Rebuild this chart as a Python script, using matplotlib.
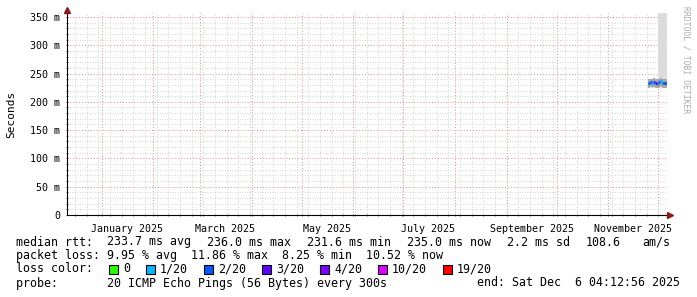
import datetime as dt
import matplotlib
matplotlib.use("Agg")
import matplotlib.pyplot as plt
import matplotlib.dates as mdates
from matplotlib.patches import Rectangle

# daily consolidated values at the end of the period (seconds)
days = [dt.datetime(2025, 11, 25) + dt.timedelta(days=i) for i in range(12)]
median = [0.2331, 0.2345, 0.2320, 0.2358, 0.2330, 0.2316, 0.2342, 0.2360, 0.2335, 0.2328, 0.2340, 0.2350]
loss = [2, 2, 1, 2, 3, 2, 2, 1, 2, 2, 2, 2]
smoke_lo = [0.2250, 0.2255, 0.2248, 0.2260, 0.2252, 0.2246, 0.2250, 0.2255, 0.2248, 0.2252, 0.2250, 0.2255]
smoke_mid = [0.2400, 0.2410, 0.2395, 0.2415, 0.2405, 0.2400, 0.2410, 0.2415, 0.2405, 0.2400, 0.2410, 0.2410]
smoke_hi = [0.2400, 0.2410, 0.2395, 0.2415, 0.2405, 0.2400, 0.3600, 0.3600, 0.3600, 0.3600, 0.3600, 0.3600]

loss_labels = ["0", "1/20", "2/20", "3/20", "4/20", "10/20", "19/20"]
loss_colors = ["#26ff00", "#00b8ff", "#0059ff", "#5e00ff", "#7e00ff", "#dd00ff", "#ff0000"]
loss_counts = [0, 1, 2, 3, 4, 10, 19]

month_labels = ["January 2025", "March 2025", "May 2025", "July 2025", "September 2025", "November 2025"]
month_dates = [dt.datetime(2025, m, 16) for m in (1, 3, 5, 7, 9, 11)]

end = dt.datetime(2025, 12, 6, 4, 12, 56)
start = end - dt.timedelta(days=360)

W, H = 697, 297
mono = "DejaVu Sans Mono"
fig = plt.figure(figsize=(W / 100, H / 100), dpi=100)
ax = fig.add_axes([67 / W, 82 / H, 600 / W, 202 / H])


def color_for(n):
    c = loss_colors[0]
    for cnt, col in zip(loss_counts, loss_colors):
        if n >= cnt:
            c = col
    return c


# smoke
ax.fill_between(days, smoke_mid, smoke_hi, step="post", color="#dcdcdc", lw=0)
ax.fill_between(days, smoke_lo, smoke_mid, step="post", color="#a8a8a8", lw=0)

# median, coloured by loss
for i in range(len(days) - 1):
    ax.hlines(median[i], days[i], days[i + 1], colors=color_for(loss[i]), lw=2.2)

ax.set_xlim(start, end)
ax.set_ylim(0, 0.357)

# grid
ax.xaxis.set_major_locator(mdates.MonthLocator())
ax.xaxis.set_minor_locator(mdates.WeekdayLocator(byweekday=mdates.MO))
ax.set_yticks([i * 0.05 for i in range(8)])
ax.set_yticks([i * 0.01 for i in range(36)], minor=True)
ax.grid(which="minor", color="#c8c8c8", ls=(0, (1, 2)), lw=0.6)
ax.grid(which="major", color="#e09090", ls=(0, (1, 2)), lw=0.7)
ax.set_axisbelow(True)
ax.xaxis.set_major_formatter(plt.NullFormatter())
ax.set_yticklabels(["0" if v == 0 else f"{v * 1000:.0f} m" for v in ax.get_yticks()],
                   family=mono, fontsize=7.2)
ax.tick_params(which="both", length=2, width=0.6, color="#555555", direction="inout", pad=4)
for s in ("top", "right"):
    ax.spines[s].set_visible(False)
for s in ("left", "bottom"):
    ax.spines[s].set_linewidth(0.8)

for d, lab in zip(month_dates, month_labels):
    ax.text(d, -0.025, lab, ha="center", va="center", family=mono, fontsize=7.2,
            transform=ax.get_xaxis_transform() if False else ax.transData)

# axis arrows
fig.lines.append(plt.Line2D([67 / W], [1 - 10 / H], marker="^", ms=4, color="#8b1a1a",
                            transform=fig.transFigure))
fig.lines.append(plt.Line2D([670 / W], [1 - 215 / H], marker=">", ms=4, color="#8b1a1a",
                            transform=fig.transFigure))

fig.text(11 / W, 1 - 114 / H, "Seconds", rotation=90, ha="center", va="center",
         family=mono, fontsize=8)
fig.text(686 / W, 1 - 60 / H, "RRDTOOL / TOBI OETIKER", rotation=270, ha="center",
         va="center", family=mono, fontsize=5.8, color="#aaaaaa")


def txt(x, y, s, **kw):
    fig.text(x / W, 1 - y / H, s, va="center", family=mono, fontsize=8.37, **kw)


stats = ["233.7 ms avg", "236.0 ms max", "231.6 ms min", "235.0 ms now", "2.2 ms sd", "108.6"]
stat_x = [107, 207, 307, 407, 507, 586]
txt(16, 242, "median rtt:")
for x, s in zip(stat_x, stats):
    txt(x, 242, s)
txt(642, 242, "am/s")
txt(16, 255, "packet loss: 9.95 % avg  11.86 % max  8.25 % min  10.52 % now")
txt(16, 269, "loss color:")
sx = 109
for lab, col in zip(loss_labels, loss_colors):
    fig.patches.append(Rectangle((sx / W, 1 - 274 / H), 9 / W, 9 / H, facecolor=col,
                                 edgecolor="black", lw=0.8, transform=fig.transFigure))
    txt(sx + 14, 269, lab)
    sx += 14 + 7 * len(lab) + 16
txt(16, 283, "probe:       20 ICMP Echo Pings (56 Bytes) every 300s")
txt(680, 283, "end: Sat Dec  6 04:12:56 2025", ha="right")

fig.savefig("out.png", dpi=100)
